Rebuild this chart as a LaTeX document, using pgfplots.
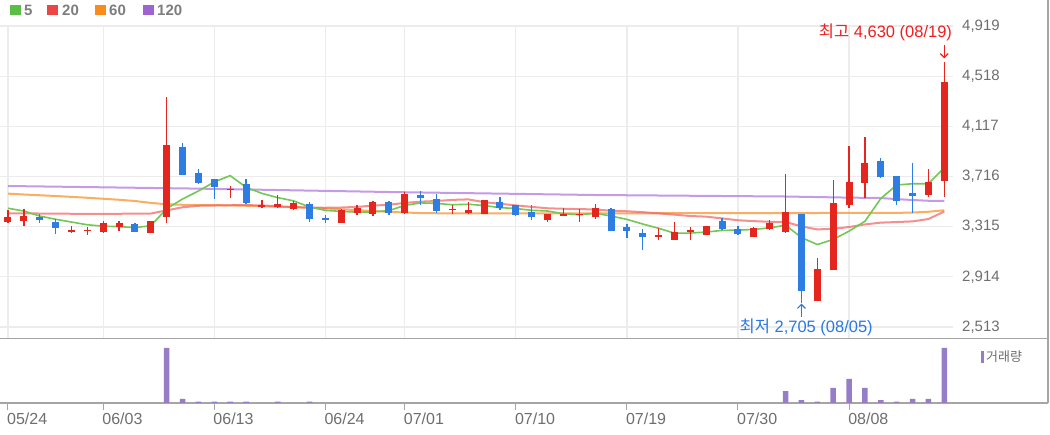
\documentclass[border=0pt]{standalone}
\usepackage{fontspec}
\setmainfont{Liberation Sans}
\newfontfamily\kr{Noto Sans CJK KR}
\usepackage{pgfplots}
\pgfplotsset{compat=1.18}
\usepackage{pgfplotstable}
\usetikzlibrary{arrows.meta}

\definecolor{upred}{RGB}{228,38,30}
\definecolor{downblue}{RGB}{46,125,226}
\definecolor{volcol}{RGB}{150,125,200}
\definecolor{gridgray}{RGB}{236,236,236}
\definecolor{framegray}{RGB}{165,165,165}
\definecolor{labgray}{RGB}{110,110,110}
\definecolor{legtext}{RGB}{125,125,125}
\definecolor{ma5}{RGB}{115,200,85}
\definecolor{ma20}{RGB}{240,95,95}
\definecolor{ma60}{RGB}{250,160,70}
\definecolor{ma120}{RGB}{180,130,225}
\definecolor{lg5}{RGB}{90,190,70}
\definecolor{lg20}{RGB}{235,70,70}
\definecolor{lg60}{RGB}{250,140,30}
\definecolor{lg120}{RGB}{160,100,210}
\definecolor{hicol}{RGB}{240,30,30}
\definecolor{locol}{RGB}{40,120,230}

% up candles (close > open): index, open, high, low, close
\pgfplotstableread{
i o h l c
0 3353 3448 3342 3395
1 3363 3459 3321 3400
4 3273 3321 3262 3291
5 3278 3313 3249 3286
6 3273 3361 3267 3347
7 3315 3358 3281 3345
9 3267 3364 3264 3361
10 3392 4353 3342 3970
14 3608 3640 3547 3619
16 3470 3531 3467 3486
17 3470 3566 3467 3494
18 3459 3520 3448 3502
21 3347 3459 3345 3446
22 3427 3486 3408 3462
23 3419 3520 3400 3512
25 3422 3595 3419 3579
28 3448 3486 3419 3459
29 3422 3515 3419 3446
30 3419 3530 3417 3526
34 3366 3416 3353 3414
35 3403 3467 3400 3419
36 3408 3454 3355 3419
37 3395 3494 3379 3467
41 3233 3302 3209 3246
42 3209 3353 3207 3273
43 3273 3313 3206 3289
44 3249 3323 3246 3321
47 3233 3310 3230 3302
48 3294 3369 3286 3347
49 3273 3734 3267 3432
51 2721 3067 2719 2980
52 2969 3686 2967 3507
53 3488 3960 3467 3674
54 3666 4031 3547 3826
58 3568 3773 3555 3674
59 3680 4630 3555 4473
}\uptab

% down candles (close < open)
\pgfplotstableread{
i o h l c
2 3392 3416 3342 3366
3 3353 3374 3259 3307
8 3339 3342 3270 3273
11 3949 3986 3725 3730
12 3746 3773 3654 3666
13 3694 3697 3534 3632
15 3658 3694 3499 3502
19 3494 3512 3355 3374
20 3382 3408 3347 3369
24 3512 3520 3408 3427
26 3568 3600 3488 3547
27 3539 3579 3422 3440
31 3515 3552 3446 3462
32 3488 3490 3403 3406
33 3432 3488 3366 3392
38 3459 3462 3278 3281
39 3313 3339 3222 3281
40 3267 3294 3126 3233
45 3361 3387 3286 3294
46 3299 3321 3246 3259
50 3414 3416 2705 2801
55 3840 3861 3706 3712
56 3720 3722 3488 3520
57 3587 3826 3422 3558
}\downtab

\begin{document}
\begin{tikzpicture}[x=1pt,y=1pt]
\useasboundingbox (0,0) rectangle (1050,434);

% panel frame
\draw[framegray, line width=1.5pt] (0,95.5) -- (1048,95.5);
\draw[framegray, line width=1.5pt] (0,31) -- (1048,31);
\draw[framegray, line width=1.2pt] (1048,31) -- (1048,434);

\begin{axis}[
    at={(0pt,96pt)}, anchor=south west, scale only axis,
    width=953pt, height=312pt,
    xmin=-0.504, xmax=59.55, ymin=2425, ymax=4919,
    axis line style={draw=none},
    major tick length=0pt,
    xtick={0,6,13,20,25,32,39,46,53}, xticklabels={},
    ytick={2513,2914,3315,3716,4117,4518,4919},
    yticklabels={{2,513},{2,914},{3,315},{3,716},{4,117},{4,518},{4,919}},
    yticklabel pos=right,
    yticklabel style={font=\fontsize{15}{15}\selectfont, text=labgray,
        anchor=west, inner sep=0pt, xshift=9pt},
    grid=major, major grid style={draw=gridgray, line width=1.3pt},
    clip=false,
]
% moving averages
\addplot[ma120, line width=2pt, opacity=0.8] coordinates {
 (0,3640) (12,3619) (24,3592) (37,3568) (49,3556) (53,3547) (55,3544)
 (56,3535) (57,3528) (58,3522) (59,3520)};
\addplot[ma60, line width=2pt, opacity=0.85] coordinates {
 (0,3579) (1,3572) (2,3566) (3,3560) (4,3553) (5,3546) (6,3538) (7,3530)
 (8,3520) (9,3505) (10,3494) (11,3490) (12,3488) (13,3487) (14,3485)
 (15,3482) (16,3478) (17,3474) (18,3470) (19,3466) (20,3460) (21,3454)
 (22,3447) (23,3440) (24,3434) (25,3428) (26,3424) (27,3422) (28,3421)
 (30,3421) (40,3422) (50,3424) (56,3425) (57,3428) (58,3434) (59,3446)};
\addplot[ma20, line width=2pt, opacity=0.7] coordinates {
 (0,3422) (1,3422) (2,3420) (3,3420) (4,3418) (5,3418) (6,3418) (7,3418)
 (8,3419) (9,3420) (10,3445) (11,3470) (12,3482) (13,3484) (14,3486)
 (15,3487) (16,3485) (17,3478) (18,3472) (19,3467) (20,3466) (21,3468)
 (22,3473) (23,3483) (24,3490) (25,3505) (26,3515) (27,3520) (28,3529)
 (29,3533) (30,3511) (31,3498) (32,3485) (33,3473) (34,3462) (35,3458)
 (36,3455) (37,3453) (38,3442) (39,3438) (40,3431) (41,3421) (42,3411)
 (43,3400) (44,3395) (45,3381) (46,3366) (47,3359) (48,3354) (49,3353)
 (50,3317) (51,3293) (52,3298) (53,3312) (54,3333) (55,3347) (56,3352)
 (57,3357) (58,3376) (59,3436)};
\addplot[ma5, line width=1.6pt] coordinates {
 (0,3462) (1,3440) (2,3400) (3,3374) (4,3352) (5,3330) (6,3319) (7,3315)
 (8,3308) (9,3322) (10,3459) (11,3536) (12,3600) (13,3672) (14,3723)
 (15,3630) (16,3581) (17,3547) (18,3521) (19,3472) (20,3445) (21,3437)
 (22,3431) (23,3433) (24,3443) (25,3485) (26,3505) (27,3501) (28,3490)
 (29,3494) (30,3484) (31,3467) (32,3460) (33,3446) (34,3440) (35,3419)
 (36,3410) (37,3422) (38,3400) (39,3373) (40,3336) (41,3302) (42,3263)
 (43,3264) (44,3272) (45,3285) (46,3287) (47,3293) (48,3305) (49,3327)
 (50,3228) (51,3172) (52,3213) (53,3279) (54,3358) (55,3540) (56,3648)
 (57,3658) (58,3658) (59,3787)};

% wicks
\addplot[draw=none, mark=none, error bars/.cd, y dir=minus, y explicit,
    error mark=none, error bar style={draw=upred, line width=1.3pt}]
    table[x=i, y=h, y error minus expr=\thisrow{h}-\thisrow{l}] {\uptab};
\addplot[draw=none, mark=none, error bars/.cd, y dir=minus, y explicit,
    error mark=none, error bar style={draw=downblue, line width=1.3pt}]
    table[x=i, y=h, y error minus expr=\thisrow{h}-\thisrow{l}] {\downtab};
% bodies
\addplot[draw=none, mark=none, error bars/.cd, y dir=minus, y explicit,
    error mark=none, error bar style={draw=upred, line width=7pt}]
    table[x=i, y=c, y error minus expr=\thisrow{c}-\thisrow{o}] {\uptab};
\addplot[draw=none, mark=none, error bars/.cd, y dir=minus, y explicit,
    error mark=none, error bar style={draw=downblue, line width=7pt}]
    table[x=i, y=o, y error minus expr=\thisrow{o}-\thisrow{c}] {\downtab};

% high / low notes
\node[anchor=east, inner sep=0pt, text=hicol, font=\fontsize{16.5}{16.5}\selectfont]
    at (axis cs:59.5,4871) {{\kr 최고} 4,630 (08/19)};
\draw[hicol, line width=1.2pt, -{Straight Barb[length=4pt,width=8pt]}]
    (axis cs:59,4770) -- (axis cs:59,4660);
\node[anchor=center, inner sep=0pt, text=locol, font=\fontsize{16.5}{16.5}\selectfont]
    at (axis cs:50.3,2510) {{\kr 최저} 2,705 (08/05)};
\draw[locol, line width=1.2pt, -{Straight Barb[length=4pt,width=8pt]}]
    (axis cs:50,2592) -- (axis cs:50,2700);
\end{axis}

\begin{axis}[
    at={(0pt,31pt)}, anchor=south west, scale only axis,
    width=953pt, height=63pt,
    xmin=-0.504, xmax=59.55, ymin=0, ymax=114.5,
    axis line style={draw=none},
    ytick=\empty,
    xtick={0,6,13,20,25,32,39,46,53},
    xticklabels={05/24,06/03,06/13,06/24,07/01,07/10,07/19,07/30,08/08},
    xtick pos=left, tick align=outside, major tick length=7pt,
    tick style={draw=framegray, line width=1pt},
    xticklabel style={font=\fontsize{16}{16}\selectfont, text=labgray,
        anchor=north west, inner sep=0pt, xshift=-1pt, yshift=-3pt},
    ybar, bar width=5.5pt,
]
\addplot[fill=volcol, draw=none] coordinates {
 (10,100) (11,7.5) (12,2.5) (13,2.5) (14,2.5) (15,2.5) (17,2.5) (19,2.5)
 (49,21.7) (50,5) (51,2.5) (52,27.3) (53,44) (54,27.3) (55,5) (56,2.5)
 (57,7.5) (58,7.5) (59,100)};
\end{axis}

% volume legend
\fill[volcol] (980.5,71) rectangle (983.5,83);
\node[anchor=west, inner sep=0pt, text=labgray, font=\kr\fontsize{13}{13}\selectfont]
    at (986,77) {거래량};

% MA legend
\begin{scope}[font=\bfseries\fontsize{15}{15}\selectfont]
\fill[lg5] (10,419) rectangle (21,429);
\node[anchor=west, inner sep=0pt, text=legtext] at (24,424) {5};
\fill[lg20] (47,419) rectangle (58,429);
\node[anchor=west, inner sep=0pt, text=legtext] at (62,424) {20};
\fill[lg60] (95,419) rectangle (106,429);
\node[anchor=west, inner sep=0pt, text=legtext] at (109,424) {60};
\fill[lg120] (143,419) rectangle (154,429);
\node[anchor=west, inner sep=0pt, text=legtext] at (157,424) {120};
\end{scope}
\end{tikzpicture}
\end{document}
